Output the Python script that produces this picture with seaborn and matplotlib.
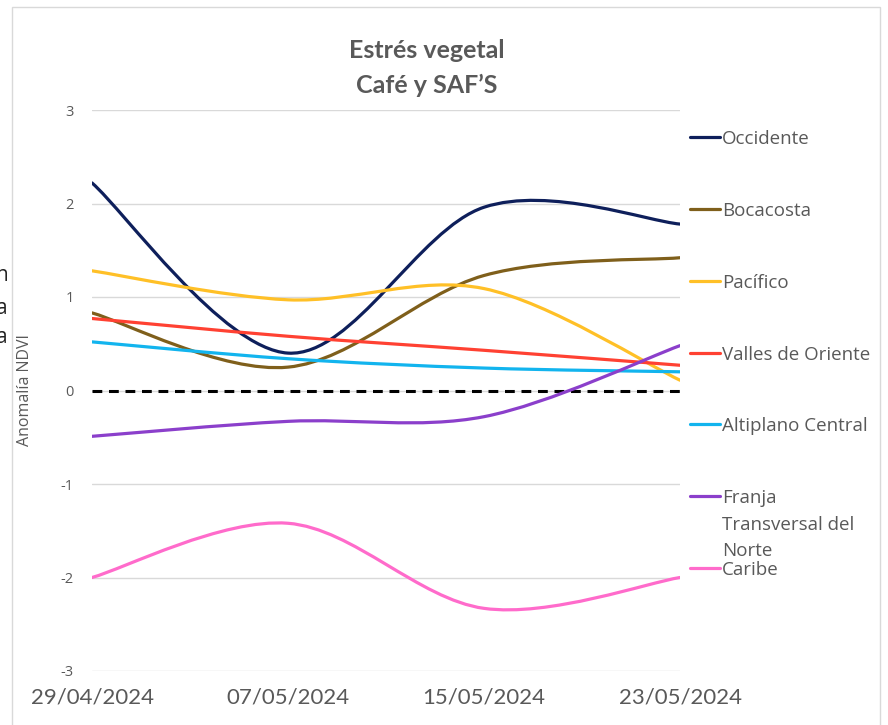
import numpy as np
import pandas as pd
import matplotlib
matplotlib.use('Agg')
import matplotlib.pyplot as plt
import matplotlib.dates as mdates
from matplotlib.path import Path
from matplotlib.patches import PathPatch, Rectangle
from matplotlib.lines import Line2D
import seaborn as sns

# Fechas de medición
fechas = pd.to_datetime(['2024-04-29', '2024-05-07', '2024-05-15', '2024-05-23'])
etiquetas_fecha = ['29/04/2024', '07/05/2024', '15/05/2024', '23/05/2024']

# Anomalía NDVI por región
regiones = ['Occidente', 'Bocacosta', 'Pacífico', 'Valles de Oriente',
            'Altiplano Central', 'Franja\nTransversal del\nNorte', 'Caribe']
occidente = [2.22, 0.40, 1.96, 1.78]
bocacosta = [0.83, 0.25, 1.23, 1.42]
pacifico = [1.28, 0.97, 1.09, 0.11]
valles = [0.77, 0.58, 0.43, 0.27]
altiplano = [0.52, 0.34, 0.24, 0.20]
franja = [-0.49, -0.33, -0.28, 0.48]
caribe = [-2.00, -1.42, -2.33, -2.00]
series = [occidente, bocacosta, pacifico, valles, altiplano, franja, caribe]
colores = ['#0E1F5B', '#7F5F1B', '#FFC027', '#FF4132', '#12B4EE', '#8B3FCB', '#FF6BCB']

W, H = 888, 725
sns.set_style('white')
plt.rcParams['font.family'] = ['Lato', 'DejaVu Sans']
plt.rcParams['axes.unicode_minus'] = False
gris = '#595959'
fuente_ley = ['Open Sans', 'DejaVu Sans']

fig = plt.figure(figsize=(W / 100, H / 100), dpi=100)
ax = fig.add_axes([92 / W, 1 - 671 / H, (680 - 92) / W, (671 - 110) / H])

x = mdates.date2num(fechas)


def curva_suave(xs, ys, t=1 / 6):
    # curva Bezier tipo "línea suavizada" de Excel, en coordenadas de datos
    n = len(xs)
    verts = [(xs[0], ys[0])]
    codes = [Path.MOVETO]
    for i in range(n - 1):
        a = max(i - 1, 0)
        b = min(i + 2, n - 1)
        c1 = (xs[i] + (xs[i + 1] - xs[a]) * t, ys[i] + (ys[i + 1] - ys[a]) * t)
        c2 = (xs[i + 1] - (xs[b] - xs[i]) * t, ys[i + 1] - (ys[b] - ys[i]) * t)
        verts += [c1, c2, (xs[i + 1], ys[i + 1])]
        codes += [Path.CURVE4] * 3
    return Path(verts, codes)


# línea de referencia en cero
df0 = pd.DataFrame({'fecha': [fechas[0], fechas[-1]], 'valor': [0, 0]})
sns.lineplot(data=df0, x='fecha', y='valor', ax=ax, color='black',
             linewidth=2.2, linestyle=(0, (3.2, 2.2)), zorder=2)

for vals, col in zip(series, colores):
    p = PathPatch(curva_suave(x, np.array(vals)), fill=False, edgecolor=col,
                  linewidth=2.3, capstyle='round', zorder=3)
    ax.add_patch(p)

ax.set_xlim(x[0], x[-1])
ax.set_ylim(-3, 3)
ax.set_yticks([-3, -2, -1, 0, 1, 2, 3])
ax.set_xticks(x)
ax.set_xticklabels(etiquetas_fecha)
ax.grid(axis='y', color='#D9D9D9', linewidth=1)
ax.grid(axis='x', visible=False)
for s in ax.spines.values():
    s.set_visible(False)
ax.tick_params(axis='y', length=0, pad=13, labelsize=10.5, labelcolor=gris)
for lab in ax.get_yticklabels():
    lab.set_family(fuente_ley)
ax.tick_params(axis='x', length=0, pad=12, labelsize=16, labelcolor=gris)
ax.set_xlabel('')
ax.set_ylabel('Anomalía NDVI', fontsize=11.5, color=gris, family=fuente_ley)
ax.yaxis.set_label_coords(-(92 - 33) / 588, 0.5)

# título
fig.text(427 / W, 1 - 50 / H, 'Estrés vegetal', ha='center', va='center',
         fontsize=18, fontweight='bold', color=gris)
fig.text(427 / W, 1 - 85 / H, 'Café y SAF\u2019S', ha='center', va='center',
         fontsize=18, fontweight='bold', color=gris)

# leyenda
y_ley = [137, 209, 281, 353, 424, 496, 568]
for nombre, col, yy in zip(regiones, colores, y_ley):
    fig.add_artist(Line2D([690 / W, 720 / W], [1 - yy / H] * 2, color=col,
                          linewidth=2.3, transform=fig.transFigure))
    for k, linea in enumerate(nombre.split('\n')):
        fig.text(722 / W, 1 - (yy + 26.5 * k) / H, linea, ha='left',
                 va='center_baseline', fontsize=13.5, color=gris,
                 family=fuente_ley)

# marco del gráfico
fig.add_artist(Rectangle((12 / W, -0.02), (880 - 12) / W, (725 - 7) / H + 0.02,
                         fill=False, edgecolor='#D9D9D9', linewidth=1,
                         transform=fig.transFigure))

# texto del documento cortado a la izquierda
for letra, yy in zip(['n', 'a', 'a'], [276, 309, 338]):
    fig.text(8 / W, 1 - yy / H, letra, ha='right', va='center', fontsize=15,
             color='#222222', family=fuente_ley)

fig.savefig('out.png', dpi=100)
